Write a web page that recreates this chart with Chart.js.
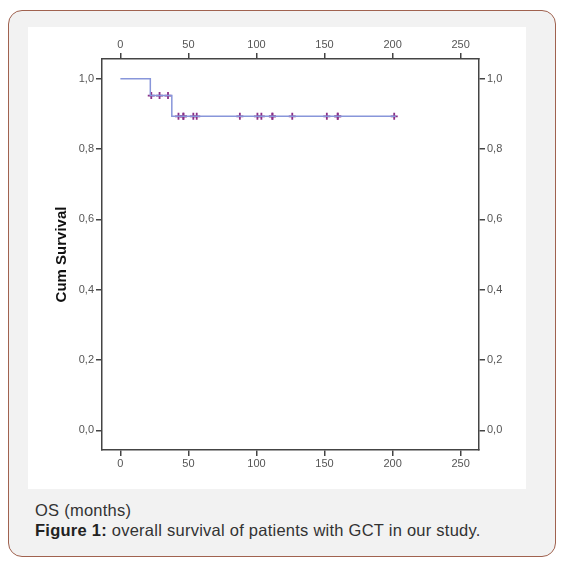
<!DOCTYPE html>
<html>
<head>
<meta charset="utf-8">
<script src="https://cdn.jsdelivr.net/npm/chart.js@4"></script>
<style>
  body { margin: 0; background: #fff; width: 565px; height: 565px; position: relative; font-family: Arial, "Liberation Sans", sans-serif; }
  .card { position: absolute; left: 8px; top: 10px; width: 546px; height: 545px; border: 1px solid #a0624f; border-radius: 14px; background: #f2f2f2; }
  .panel { position: absolute; left: 28px; top: 27px; width: 498px; height: 462px; background: #fff; }
  .caption { position: absolute; left: 35px; top: 500px; font-size: 16.5px; letter-spacing: 0.25px; line-height: 20px; color: #333; }
  .caption b { color: #222; }
</style>
</head>
<body>
<div class="card"></div>
<div class="panel"><canvas id="km" width="498" height="462"></canvas></div>
<div class="caption">OS (months)<br><b>Figure 1:</b> overall survival of patients with GCT in our study.</div>
<script>
// Kaplan-Meier steps (time in months, cumulative survival)
const stepTimes = [0, 22, 37.8, 202.4];
const stepSurv = [1, 0.952, 0.893, 0.893];

// censored cases
const censorTimes = [22.7, 28.8, 35, 42.7, 46.3, 46.3, 53.6, 56.1, 87.8, 100.7, 103.6, 111.7, 111.7, 126.3, 151.7, 159.7, 159.7, 201.2];
const censorSurv = [0.952, 0.952, 0.952, 0.893, 0.893, 0.893, 0.893, 0.893, 0.893, 0.893, 0.893, 0.893, 0.893, 0.893, 0.893, 0.893, 0.893, 0.893];

// axis ticks
const xTicks = [0, 50, 100, 150, 200, 250];
const yTicks = [0, 0.2, 0.4, 0.6, 0.8, 1.0];

const axisColor = '#444';
const tickFont = { family: 'Arial, "Liberation Sans", sans-serif', size: 11 };

function xAxis(pos, h) {
    return {
        type: 'linear', position: pos, min: -13.5, max: 263.5,
        afterBuildTicks: s => { s.ticks = xTicks.map(v => ({ value: v })); },
        afterFit: s => { s.height = h; },
        grid: { drawOnChartArea: false, tickLength: 6, color: axisColor, lineWidth: 1.5 },
        border: { display: true, color: axisColor, width: 1.5 },
        ticks: { color: '#555', font: tickFont, padding: 1, maxRotation: 0 }
    };
}

function yAxis(pos, w, withTitle) {
    return {
        type: 'linear', position: pos, min: -0.056, max: 1.056,
        afterBuildTicks: s => { s.ticks = yTicks.map(v => ({ value: v })); },
        afterFit: s => { s.width = w; },
        grid: { drawOnChartArea: false, tickLength: 6, color: axisColor, lineWidth: 1.5 },
        border: { display: true, color: axisColor, width: 1.5 },
        ticks: {
            color: '#555', font: tickFont, padding: 2,
            callback: v => v.toFixed(1).replace('.', ',')
        },
        title: {
            display: withTitle, text: 'Cum Survival', color: '#111',
            font: { family: 'Arial, "Liberation Sans", sans-serif', size: 15, weight: 'bold' },
            padding: { top: 25, bottom: 0 }
        }
    };
}

const stepData = stepTimes.map((t, i) => ({ x: t, y: stepSurv[i] }));
const censorData = censorTimes.map((t, i) => ({ x: t, y: censorSurv[i] }));

new Chart(document.getElementById('km'), {
    type: 'line',
    data: {
        datasets: [
            {
                data: stepData, stepped: 'before',
                borderColor: '#8896da', borderWidth: 1.5,
                pointRadius: 0, fill: false,
                xAxisID: 'x', yAxisID: 'y'
            },
            {
                data: censorData, showLine: false,
                pointStyle: 'cross', pointRadius: 3.5, pointBorderWidth: 1.8,
                pointBorderColor: '#8a2f86', borderColor: '#8a2f86',
                xAxisID: 'x', yAxisID: 'y'
            }
        ]
    },
    options: {
        responsive: false,
        animation: false,
        devicePixelRatio: 1,
        layout: { padding: 0 },
        plugins: { legend: { display: false }, tooltip: { enabled: false } },
        scales: {
            x: xAxis('bottom', 39),
            x2: xAxis('top', 32),
            y: yAxis('left', 74, true),
            y2: yAxis('right', 47, false)
        }
    }
});
</script>
</body>
</html>
